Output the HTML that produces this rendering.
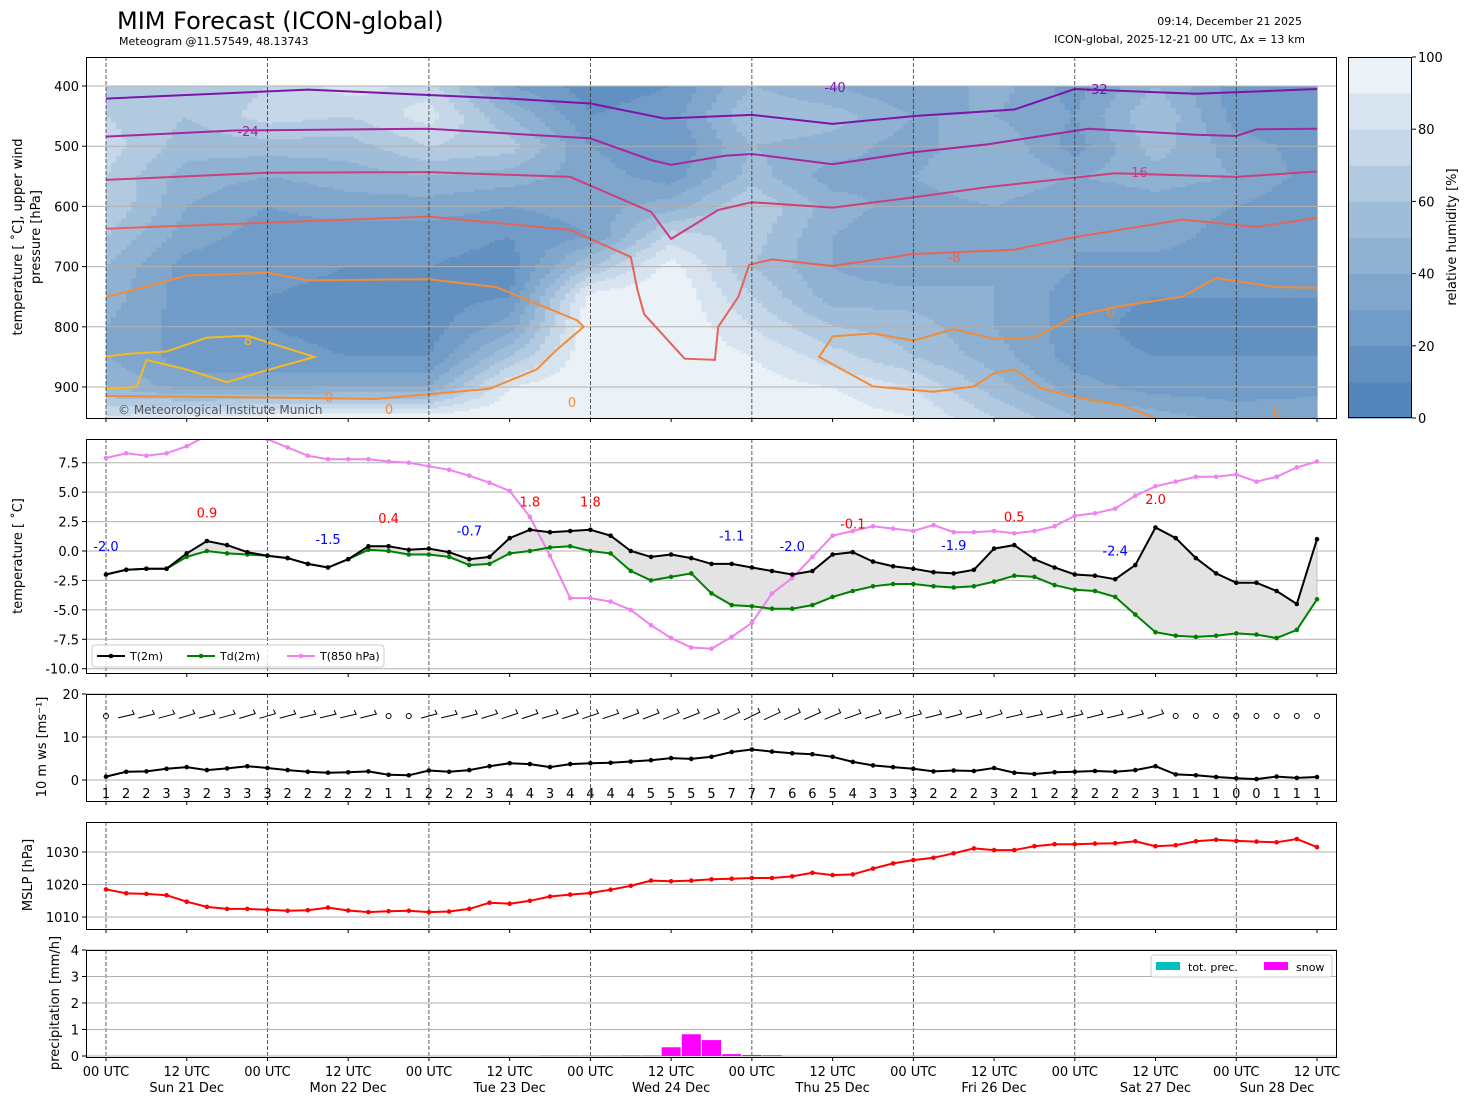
<!DOCTYPE html>
<html><head><meta charset="utf-8">
<style>
html,body{margin:0;padding:0;background:#fff;}
svg{display:block;font-family:"DejaVu Sans","Liberation Sans",sans-serif;}
</style></head>
<body>
<svg id="chart" xmlns="http://www.w3.org/2000/svg" width="1469" height="1105" viewBox="0 0 1469 1105">
<defs>
<clipPath id="c1"><rect x="86" y="57" width="1251" height="361"/></clipPath>
<clipPath id="c2"><rect x="86" y="439" width="1251" height="234"/></clipPath>
</defs>
<text x="117" y="29" font-size="24">MIM Forecast (ICON-global)</text>
<text x="119" y="45" font-size="11">Meteogram @11.57549, 48.13743</text>
<text x="1302" y="25" font-size="11" text-anchor="end">09:14, December 21 2025</text>
<text x="1305" y="43" font-size="11" text-anchor="end">ICON-global, 2025-12-21 00 UTC, Δx = 13 km</text>
<text transform="translate(22,237) rotate(-90)" font-size="13" text-anchor="middle">temperature [ ˚C], upper wind</text>
<text transform="translate(40,237) rotate(-90)" font-size="13" text-anchor="middle">pressure [hPa]</text>
<text transform="translate(22,556) rotate(-90)" font-size="13" text-anchor="middle">temperature [ ˚C]</text>
<text transform="translate(46,747) rotate(-90)" font-size="13" text-anchor="middle">10 m ws [ms⁻¹]</text>
<text transform="translate(32,875) rotate(-90)" font-size="13" text-anchor="middle">MSLP [hPa]</text>
<text transform="translate(59,1003) rotate(-90)" font-size="13" text-anchor="middle">precipitation [mm/h]</text>
<text transform="translate(1456,237) rotate(-90)" font-size="13" text-anchor="middle">relative humidity [%]</text>
<g id="g1"></g>
<g id="g2"></g>
<g id="g3"></g>
<g id="g4"></g>
<g id="g5"></g>
<g id="gcb"></g>
</svg>
<script>
// ---------- data ----------
const t2m = [-2.0,-1.6,-1.5,-1.5,-0.2,0.85,0.5,-0.1,-0.4,-0.6,-1.1,-1.4,-0.7,0.4,0.4,0.1,0.2,-0.1,-0.7,-0.5,1.1,1.8,1.6,1.7,1.8,1.3,0.0,-0.5,-0.3,-0.6,-1.1,-1.1,-1.4,-1.7,-2.0,-1.7,-0.3,-0.1,-0.9,-1.3,-1.5,-1.8,-1.9,-1.6,0.2,0.5,-0.7,-1.4,-2.0,-2.1,-2.4,-1.2,2.0,1.1,-0.6,-1.9,-2.7,-2.7,-3.4,-4.5,1.0];
const td2m = [-2.0,-1.6,-1.5,-1.5,-0.5,0.0,-0.2,-0.3,-0.4,-0.6,-1.1,-1.4,-0.7,0.1,0.0,-0.3,-0.3,-0.5,-1.2,-1.1,-0.2,0.0,0.3,0.4,0.0,-0.2,-1.7,-2.5,-2.2,-1.9,-3.6,-4.6,-4.7,-4.9,-4.9,-4.6,-3.9,-3.4,-3.0,-2.8,-2.8,-3.0,-3.1,-3.0,-2.6,-2.1,-2.2,-2.9,-3.3,-3.4,-3.9,-5.4,-6.9,-7.2,-7.3,-7.2,-7.0,-7.1,-7.4,-6.7,-4.1];
const t850 = [7.9,8.3,8.1,8.3,8.9,9.8,10.5,10.5,9.5,8.8,8.1,7.8,7.8,7.8,7.6,7.5,7.2,6.9,6.4,5.8,5.1,2.9,-0.4,-4.0,-4.0,-4.3,-5.0,-6.3,-7.4,-8.2,-8.3,-7.3,-6.1,-3.6,-2.3,-0.5,1.3,1.7,2.1,1.9,1.7,2.2,1.6,1.6,1.7,1.5,1.7,2.1,3.0,3.2,3.6,4.7,5.5,5.9,6.3,6.3,6.5,5.9,6.3,7.1,7.6];
const ws10 = [0.8,1.9,2.0,2.6,3.0,2.3,2.7,3.2,2.8,2.3,1.9,1.7,1.8,2.0,1.2,1.1,2.2,1.9,2.3,3.2,3.9,3.7,3.0,3.7,3.9,4.0,4.3,4.6,5.1,4.9,5.4,6.5,7.1,6.6,6.2,6.0,5.4,4.2,3.4,3.0,2.6,2.0,2.2,2.1,2.8,1.7,1.4,1.8,1.9,2.1,1.9,2.3,3.2,1.3,1.1,0.7,0.4,0.2,0.8,0.5,0.7];
const mslp = [1018.5,1017.3,1017.1,1016.7,1014.7,1013.1,1012.5,1012.5,1012.2,1011.9,1012.1,1012.9,1012.0,1011.5,1011.8,1011.9,1011.5,1011.7,1012.5,1014.4,1014.1,1015.0,1016.3,1016.9,1017.4,1018.4,1019.6,1021.2,1021.0,1021.2,1021.6,1021.8,1022.0,1022.0,1022.5,1023.6,1022.9,1023.1,1024.9,1026.5,1027.5,1028.2,1029.6,1031.1,1030.6,1030.6,1031.8,1032.4,1032.4,1032.6,1032.7,1033.3,1031.8,1032.1,1033.3,1033.8,1033.4,1033.2,1033.0,1034.0,1031.5];
const precTot = [0,0,0,0,0,0,0,0,0,0,0,0,0,0,0,0,0,0,0,0,0,0,0.02,0.02,0.02,0.02,0.02,0,0,0,0,0,0,0,0,0,0,0,0,0,0,0,0,0,0,0,0,0,0,0,0,0,0,0,0,0,0,0,0,0,0];
const precSnow = [0,0,0,0,0,0,0,0,0,0,0,0,0,0,0,0,0,0,0,0,0,0,0,0,0,0,0.02,0.02,0.33,0.82,0.6,0.07,0.04,0.03,0,0,0,0,0,0,0,0,0,0,0,0,0,0,0,0,0,0,0,0,0,0,0,0,0,0,0];
const extremeIdx = [0,5,11,14,18,21,24,31,34,37,42,45,50,52];
const extremeText = ["-2.0","0.9","-1.5","0.4","-0.7","1.8","1.8","-1.1","-2.0","-0.1","-1.9","0.5","-2.4","2.0"];
const extremeIsMax = [0,1,0,1,0,1,1,0,0,1,0,1,0,1];
const xTickHours = [0,12,24,36,48,60,72,84,96,108,120,132,144,156,168,180];
const xTickDay = ["","Sun 21 Dec","","Mon 22 Dec","","Tue 23 Dec","","Wed 24 Dec","","Thu 25 Dec","","Fri 26 Dec","","Sat 27 Dec","","Sun 28 Dec"];
const pTicks = [400,500,600,700,800,900];
const tTicks = [7.5,5,2.5,0,-2.5,-5,-7.5,-10];
const wTicks = [0,10,20];
const mTicks = [1010,1020,1030];
const rTicks = [0,1,2,3,4];
const cbTicks = [0,20,40,60,80,100];
// relative humidity: rows = time every 12 h, columns = levels
const rhLevels = [400,450,500,550,600,650,700,750,800,850,900,950];
const rhHours = [0,12,24,36,48,60,72,84,96,108,120,132,144,156,168,180];
const rhGrid = [
 [60,70,75,70,70,60,50,45,40,40,50,80],
 [60,60,55,45,40,35,25,25,25,25,35,90],
 [70,75,55,40,30,25,25,20,20,25,35,95],
 [85,70,55,45,35,25,20,15,15,20,40,95],
 [75,85,70,50,35,25,20,15,15,20,40,95],
 [30,50,65,45,30,20,15,20,35,60,90,100],
 [15,20,30,35,35,30,60,95,100,100,100,100],
 [20,25,20,25,45,75,95,100,100,100,95,100],
 [50,60,50,55,70,65,60,70,80,90,95,95],
 [40,55,45,35,45,40,40,45,60,75,90,95],
 [30,40,35,40,35,30,30,45,55,60,80,90],
 [45,40,50,50,40,35,40,40,40,45,55,70],
 [25,30,25,40,30,30,30,25,25,25,35,50],
 [50,60,55,45,35,35,25,20,15,20,25,45],
 [25,25,35,40,30,25,25,20,15,20,25,35],
 [20,20,25,25,20,20,20,20,20,20,25,40]];
// isotherms: [hour, pressure]
const isoM40 = [[0,421],[30,406],[60,421],[72,429],[83,454],[96,448],[108,463],[120,450],[135,439],[144,405],[162,413],[180,405]];
const isoM32 = [[0,484],[19,474],[48,471],[72,487],[81,523],[84,531],[92,516],[96,513],[108,530],[120,510],[131,497],[146,471],[162,481],[168,483],[171,472],[180,471]];
const isoM16 = [[0,556],[24,544],[48,543],[69,551],[81,609],[84,654],[91,606],[96,593],[108,602],[120,585],[131,568],[150,545],[168,551],[180,542]];
const isoM8 = [[0,637],[48,617],[69,639],[78,684],[79,739],[80,779],[86,853],[90.5,855],[91,800],[94,750],[95.6,697],[99,688],[108,699],[120,679],[135,672],[144,651],[160,622],[171,634],[180,619]];
const iso0a = [[0,751],[12,715],[24,710],[30,723],[48,721],[58,734],[70,789],[71,800],[67,838],[64,871],[57,903],[40,920],[20,917],[0,915]];
const iso0b = [[155.6,950],[151,930],[144,917],[139,902],[135,871],[132,877],[129,899],[123,908],[114,899],[106,850],[108,816],[114,811],[120,823],[126,804],[132,820],[138,818],[144,782],[151,765],[160,750],[165,719],[174,734],[180,735]];
const iso8 = [[0,850],[3,845],[9,841],[15,818],[21,815],[31,850],[23,875],[18,892],[12,871],[6,855],[4.6,900],[0,903]];

// ---------- scales ----------
const NS = "http://www.w3.org/2000/svg";
const X0 = 106, PXH = (1317 - 106) / 180;
function xH(h){ return X0 + h * PXH; }
function xI(i){ return xH(i * 3); }
function yP1(p){ return 86 + (p - 400) * 0.602; }
function yT(v){ return 551 - v * 11.77; }
function yW(v){ return 780 - v * 4.3; }
function yM(v){ return 917 - (v - 1010) * 3.25; }
function yR(v){ return 1056 - v * 26.5; }
function mk(tag, attrs, parent){
  const e = document.createElementNS(NS, tag);
  for (const k in attrs) e.setAttribute(k, attrs[k]);
  parent.appendChild(e);
  return e;
}
function rhColor(v){
  const b = Math.max(0, Math.min(9, Math.floor(v / 10)));
  const c = b * 10 + 5;
  let a, z, f;
  if (c <= 50){ a=[76,129,184]; z=[150,182,213]; f=c/50; }
  else { a=[150,182,213]; z=[243,247,251]; f=(c-50)/50; }
  return "rgb(" + [0,1,2].map(k => Math.round(a[k] + (z[k]-a[k]) * f)).join(",") + ")";
}
function rhAt(h, p){
  let ti = Math.min(rhHours.length - 2, Math.floor(h / 12));
  let ft = (h - rhHours[ti]) / 12;
  let pc = Math.min(950, Math.max(400, p));
  let li = Math.min(rhLevels.length - 2, Math.floor((pc - 400) / 50));
  let fl = (pc - rhLevels[li]) / 50;
  const a = rhGrid[ti][li], b = rhGrid[ti][li+1], c = rhGrid[ti+1][li], d = rhGrid[ti+1][li+1];
  return (a*(1-fl) + b*fl) * (1-ft) + (c*(1-fl) + d*fl) * ft;
}

const g1 = document.getElementById('g1');
const g2 = document.getElementById('g2');
const g3 = document.getElementById('g3');
const g4 = document.getElementById('g4');
const g5 = document.getElementById('g5');
const gcb = document.getElementById('gcb');

// ---------- panel 1 heatmap ----------
const hm = mk('g', {'clip-path':'url(#c1)'}, g1);


const dh = 0.75, dp = 4;
for (let p = 400; p < 956; p += dp){
  let runStart = 0, runCol = null;
  const n = Math.round(180 / dh);
  for (let k = 0; k <= n; k++){
    const col = k < n ? rhColor(rhAt(k * dh + dh/2, p + dp/2)) : null;
    if (col !== runCol){
      if (runCol !== null){
        const r = mk('rect', {x: xH(runStart*dh).toFixed(1), y: yP1(p).toFixed(1), width: (xH(k*dh)-xH(runStart*dh)+0.6).toFixed(1), height: (dp*0.602+0.6).toFixed(2), fill: runCol}, hm);
        
        
      }
      runStart = k; runCol = col;
    }
  }
}
// grid lines p1
pTicks.forEach(p => {
  const l = mk('line', {x1:86, x2:1337, y1:yP1(p), y2:yP1(p), stroke:'#b0b0b0', 'stroke-width':1}, g1);
  
  
  const t = mk('text', {x:79, y:yP1(p)+5, 'font-size':13, 'text-anchor':'end'}, g1);
  
  
  t.textContent = p;
  const tk = mk('line', {x1:82, x2:86, y1:yP1(p), y2:yP1(p), stroke:'#000'}, g1);
  
  
});
// isotherms
function isoLine(pts, color, name){
  const d = pts.map((q, i) => (i ? 'L' : 'M') + xH(q[0]).toFixed(1) + ',' + yP1(q[1]).toFixed(1)).join('');
  const e = mk('path', {d: d, fill:'none', stroke: color, 'stroke-width': 2, 'clip-path':'url(#c1)'}, g1);
  
  
}
isoLine(isoM40, '#7d14aa', 'isotherm-minus32');
isoLine(isoM32, '#a5279d', 'isotherm-minus24');
isoLine(isoM16, '#c9407f', 'isotherm-minus16');
isoLine(isoM8, '#e4645a', 'isotherm-minus8');
isoLine(iso0a, '#f08d38', 'isotherm-0-west');
isoLine(iso0b, '#f08d38', 'isotherm-0-east');
isoLine(iso8, '#f5ba22', 'isotherm-8');
const isoLabels = [[248,136,'-24','#a5279d'],[835,92,'-40','#7d14aa'],[1097,94,'-32','#7d14aa'],[1137,177,'-16','#c9407f'],[954,262,'-8','#e4645a'],[1111,317,'0','#f08d38'],[248,345,'8','#f5ba22'],[329,402,'0','#f08d38'],[389,414,'0','#f08d38'],[572,407,'0','#f08d38'],[1277,417,'0','#f08d38']];
isoLabels.forEach(q => {
  const t = mk('text', {x:q[0], y:q[1], 'font-size':13, 'text-anchor':'middle', fill:q[3]}, g1);
  
  
  t.textContent = q[2];
});
const cp = mk('text', {x:118, y:414, 'font-size':12, fill:'#555'}, g1);


cp.textContent = '© Meteorological Institute Munich';

// ---------- common panel frame ----------
const panels = [[g1,57,418],[g2,439,673],[g3,694,801],[g4,822,929],[g5,950,1057]];
panels.forEach((pp, pi) => {
  const g = pp[0];
  for (let h = 0; h <= 180; h += 24){
    const l = mk('line', {x1:xH(h), x2:xH(h), y1:pp[1], y2:pp[2], stroke:'#333', 'stroke-width':0.8, 'stroke-dasharray':'4,2'}, g);
    
    
  }
  xTickHours.forEach(h => {
    const tk = mk('line', {x1:xH(h), x2:xH(h), y1:pp[2], y2:pp[2]+4, stroke:'#000'}, g);
    
    
  });
});
function frame(g, y0, y1){
  const r = mk('rect', {x:86.5, y:y0+0.5, width:1250, height:y1-y0, fill:'none', stroke:'#000', 'stroke-width':1}, g);
  
  
}
function yAxis(g, ticks, yf, fmt, gx){
  ticks.forEach(v => {
    const y = yf(v);
    if (gx){
      const l = mk('line', {x1:86, x2:1337, y1:y, y2:y, stroke:'#b0b0b0', 'stroke-width':1}, g);
      
      
    }
    const tk = mk('line', {x1:82, x2:86, y1:y, y2:y, stroke:'#000'}, g);
    
    
    const t = mk('text', {x:79, y:y+5, 'font-size':13, 'text-anchor':'end'}, g);
    
    
    t.textContent = fmt(v);
  });
}

// ---------- panel 2 temperature ----------
yAxis(g2, tTicks, yT, v => v.toFixed(1), true);
const c2 = mk('g', {'clip-path':'url(#c2)'}, g2);


let fillD = t2m.map((v,i) => (i?'L':'M') + xI(i).toFixed(1) + ',' + yT(v).toFixed(1)).join('');
for (let i = td2m.length - 1; i >= 0; i--) fillD += 'L' + xI(i).toFixed(1) + ',' + yT(td2m[i]).toFixed(1);
const fl = mk('path', {d: fillD + 'Z', fill:'#e3e3e3', stroke:'#b8b8b8', 'stroke-width':0.8}, c2);


function series(g, arr, yf, color, name, r){
  const d = arr.map((v,i) => (i?'L':'M') + xI(i).toFixed(1) + ',' + yf(v).toFixed(1)).join('');
  const p = mk('path', {d:d, fill:'none', stroke:color, 'stroke-width':2}, g);
  
  
  arr.forEach((v,i) => {
    const c = mk('circle', {cx:xI(i).toFixed(1), cy:yf(v).toFixed(1), r:r, fill:color}, g);
    
    
  });
}
series(c2, t850, yT, '#ee82ee', 't850', 2.3);
series(c2, td2m, yT, '#008000', 'td2m', 2.3);
series(c2, t2m, yT, '#000000', 't2m', 2.3);
extremeIdx.forEach((ix, k) => {
  const t = mk('text', {x:xI(ix), y:yT(t2m[ix] + 2.0), 'font-size':13, 'text-anchor':'middle', fill: extremeIsMax[k] ? '#ff0000' : '#0000ff'}, g2);
  
  
  t.textContent = extremeText[k];
});
// legend
const lg = mk('g', {}, g2);


const lbox = mk('rect', {x:92, y:645, width:292, height:22, rx:3, fill:'#fff', 'fill-opacity':0.85, stroke:'#ccc'}, lg);


[[97,'#000','T(2m)'],[187,'#008000','Td(2m)'],[287,'#ee82ee','T(850 hPa)']].forEach(q => {
  const l = mk('line', {x1:q[0], x2:q[0]+28, y1:656, y2:656, stroke:q[1], 'stroke-width':2}, lg);
  
  
  const c = mk('circle', {cx:q[0]+14, cy:656, r:2.3, fill:q[1]}, lg);
  
  
  const t = mk('text', {x:q[0]+33, y:660, 'font-size':11}, lg);
  
  
  t.textContent = q[2];
});
frame(g2, 439, 673);

// ---------- panel 3 wind ----------
yAxis(g3, wTicks, yW, v => String(v), true);
series(g3, ws10, yW, '#000', 'wind-speed', 2.3);
ws10.forEach((v,i) => {
  const t = mk('text', {x:xI(i), y:798, 'font-size':13, 'text-anchor':'middle'}, g3);
  
  
  t.textContent = Math.round(v);
  if (v < 1.35){
    const c = mk('circle', {cx:xI(i), cy:716, r:2.5, fill:'none', stroke:'#000', 'stroke-width':1}, g3);
    
    
  } else {
    const ang = -0.15 - v * 0.05;
    const l = mk('path', {d:'M'+(xI(i)-8)+','+(716+8*Math.sin(-ang)).toFixed(1)+'L'+(xI(i)+8)+','+(716-8*Math.sin(-ang)).toFixed(1)+'l-2,-4', fill:'none', stroke:'#000', 'stroke-width':1}, g3);
    
    
  }
});
frame(g3, 694, 801);

// ---------- panel 4 mslp ----------
yAxis(g4, mTicks, yM, v => String(v), true);
series(g4, mslp, yM, '#ff0000', 'mslp', 2.3);
frame(g4, 822, 929);

// ---------- panel 5 precipitation ----------
yAxis(g5, rTicks, yR, v => String(v), true);
precTot.forEach((v,i) => {
  if (v <= 0) return;
  const r = mk('rect', {x:xI(i)-9.5, y:yR(v), width:19, height:1056-yR(v), fill:'#00bfbf'}, g5);
  
  
});
precSnow.forEach((v,i) => {
  if (v <= 0) return;
  const r = mk('rect', {x:xI(i)-9.5, y:yR(v), width:19, height:1056-yR(v), fill:'#ff00ff'}, g5);
  
  
});
const lg5 = mk('g', {}, g5);


const lb5 = mk('rect', {x:1151, y:955, width:181, height:22, rx:3, fill:'#fff', stroke:'#ccc'}, lg5);


[[1156,'#00bfbf','tot. prec.'],[1264,'#ff00ff','snow']].forEach(q => {
  const r = mk('rect', {x:q[0], y:962, width:24, height:8, fill:q[1]}, lg5);
  
  
  const t = mk('text', {x:q[0]+32, y:971, 'font-size':11}, lg5);
  
  
  t.textContent = q[2];
});
frame(g5, 950, 1057);
xTickHours.forEach((h,k) => {
  const t = mk('text', {x:xH(h), y:1076, 'font-size':13, 'text-anchor':'middle'}, g5);
  
  
  t.textContent = (h % 24 === 0) ? '00 UTC' : '12 UTC';
  if (xTickDay[k]){
    const dx = (k === xTickHours.length - 1) ? xH(h) - 40 : xH(h);
    const d = mk('text', {x:dx, y:1092, 'font-size':13, 'text-anchor':'middle'}, g5);
    
    
    d.textContent = xTickDay[k];
  }
});
frame(g1, 57, 418);

// ---------- colorbar ----------
for (let b = 0; b < 10; b++){
  const y0 = 418 - (b+1) * 36.1;
  const r = mk('rect', {x:1348, y:y0.toFixed(1), width:64, height:36.6, fill: rhColor(b*10+5)}, gcb);
  
  
}
const cbf = mk('rect', {x:1348.5, y:57.5, width:63, height:360, fill:'none', stroke:'#000'}, gcb);


cbTicks.forEach(v => {
  const y = 418 - v * 3.61;
  const tk = mk('line', {x1:1412, x2:1416, y1:y, y2:y, stroke:'#000'}, gcb);
  
  
  const t = mk('text', {x:1418, y:y+5, 'font-size':13}, gcb);
  
  
  t.textContent = v;
});
</script>
</body></html>
